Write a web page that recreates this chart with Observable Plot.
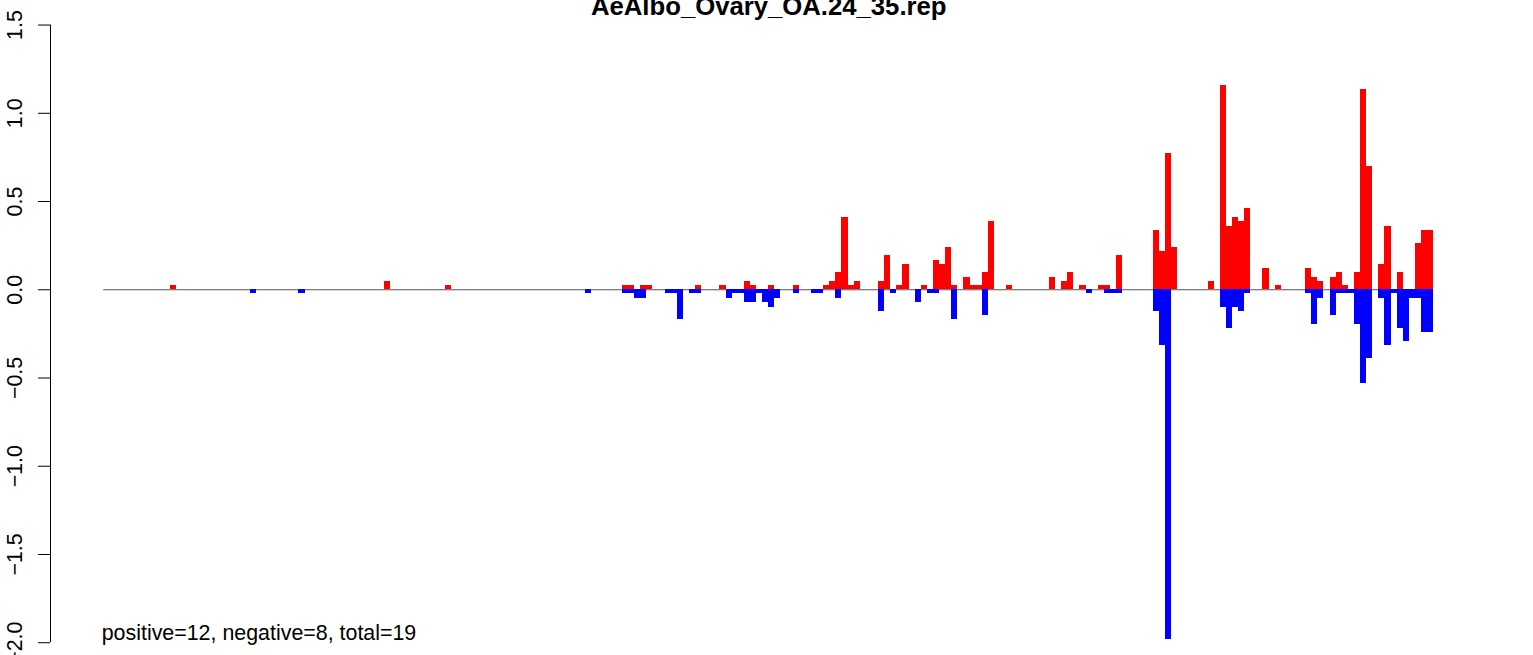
<!DOCTYPE html>
<html>
<head>
<meta charset="utf-8">
<script src="https://cdn.jsdelivr.net/npm/d3@7"></script>
<script src="https://cdn.jsdelivr.net/npm/@observablehq/plot@0.6"></script>
<style>
  html, body { margin: 0; padding: 0; background: #ffffff; }
  #chart svg { display: block; }
</style>
</head>
<body>
<div id="chart"></div>
<script>
// ---- data ----
const title = "AeAlbo_Ovary_OA.24_35.rep";
const note = "positive=12, negative=8, total=19";
const nBins = 218;
const yTicks = [-2, -1.5, -1, -0.5, 0, 0.5, 1, 1.5];
const yLimits = [-2, 1.5];

// bin index (1-based) of every non-empty bar
const bins = [12, 25, 33, 47, 57, 80, 86, 87, 88, 89, 90, 93, 94, 95, 97, 98,
  102, 103, 104, 105, 106, 107, 108, 109, 110, 111, 114, 117, 118, 119, 120, 121,
  122, 123, 124, 128, 129, 130, 131, 132, 134, 135, 136, 137, 138, 139, 140, 142,
  143, 144, 145, 146, 149, 156, 158, 159, 161, 162, 164, 165, 166, 167, 173, 174,
  175, 176, 182, 184, 185, 186, 187, 188, 191, 193, 198, 199, 200, 202, 203, 204,
  205, 206, 207, 208, 210, 211, 212, 213, 214, 215, 216, 217, 218];
// positive (red) part of each bar
const up = [0.024, 0, 0, 0.047, 0.024, 0, 0.024, 0.024, 0, 0.024, 0.024, 0, 0, 0, 0, 0.024,
  0.024, 0, 0, 0, 0.047, 0.024, 0, 0, 0.024, 0, 0.024, 0, 0, 0.024, 0.047, 0.098,
  0.41, 0.024, 0.047, 0.047, 0.194, 0, 0.024, 0.143, 0, 0.024, 0, 0.166, 0.143, 0.24, 0.024, 0.07,
  0.024, 0.024, 0.098, 0.387, 0.024, 0.07, 0.047, 0.098, 0.024, 0, 0.024, 0.024, 0, 0.194, 0.336, 0.217,
  0.772, 0.24, 0.047, 1.157, 0.359, 0.41, 0.387, 0.461, 0.121, 0.024, 0.121, 0.07, 0.047, 0.07, 0.098, 0.024,
  0, 0.098, 1.135, 0.699, 0.143, 0.359, 0, 0.098, 0, 0, 0.262, 0.336, 0.336];
// negative (blue) part of each bar
const down = [0, -0.024, -0.024, 0, 0, -0.024, -0.024, -0.024, -0.047, -0.047, 0, -0.024, -0.024, -0.168, -0.024, -0.024,
  0, -0.047, -0.024, -0.024, -0.072, -0.072, -0.024, -0.072, -0.099, -0.047, -0.024, -0.024, -0.024, 0, 0, -0.047,
  0, 0, 0, -0.121, 0, -0.024, 0, 0, -0.072, 0, -0.024, -0.024, 0, 0, -0.167, 0,
  0, 0, -0.144, 0, 0, 0, 0, 0, 0, -0.024, 0, -0.024, -0.024, -0.024, -0.121, -0.314,
  -1.98, 0, 0, -0.099, -0.218, -0.099, -0.121, -0.024, 0, 0, -0.024, -0.195, -0.047, -0.144, -0.024, -0.024,
  -0.024, -0.195, -0.529, -0.388, -0.047, -0.314, -0.024, -0.218, -0.291, -0.047, -0.047, -0.24, -0.24];

// ---- build table ----
const rows = bins.map((b, i) => ({bin: b, up: up[i], down: down[i]}));
const font = "'Liberation Sans', Arial, Helvetica, sans-serif";
const xPad = 0.04 * nBins; // R-style 4% axis extension
const xLo = -xPad;

const chart = Plot.plot({
  width: 1533,
  height: 655,
  marginLeft: 50,
  marginRight: 46.5,
  marginTop: 0,
  marginBottom: 0,
  style: {fontFamily: font, background: "#ffffff", color: "#000000", overflow: "visible"},
  x: {domain: [xLo, nBins + xPad], axis: null},
  y: {domain: [-2.0725, 1.6391], axis: null},
  marks: [
    Plot.ruleY([0], {x1: 0, x2: nBins, stroke: "#555555", strokeWidth: 1}),
    Plot.rectY(rows.filter(d => d.up > 0), {
      x1: d => d.bin - 1, x2: d => d.bin, y1: 0, y2: "up",
      fill: "#ff0000", inset: 0, shapeRendering: "crispEdges"
    }),
    Plot.rectY(rows.filter(d => d.down < 0), {
      x1: d => d.bin - 1, x2: d => d.bin, y1: 0, y2: "down",
      fill: "#0000ff", inset: 0, shapeRendering: "crispEdges"
    }),
    Plot.ruleX([xLo], {y1: yLimits[0], y2: yLimits[1], stroke: "#000000", strokeWidth: 1}),
    Plot.axisY(yTicks, {
      anchor: "left",
      tickSize: 12,
      tickPadding: 23.5,
      tickRotate: -90,
      textAnchor: "middle",
      lineAnchor: "middle",
      tickFormat: d3.format(".1f"),
      fontSize: 21.4,
      stroke: "#000000",
      fill: "#000000",
      label: null
    }),
    Plot.text([note], {
      x: 0, y: yLimits[0], text: d => d,
      textAnchor: "start", lineAnchor: "middle",
      dx: -2, dy: -9.7, fontSize: 21.4, fill: "#000000"
    }),
    Plot.text([title], {
      frameAnchor: "top", text: d => d,
      textAnchor: "middle", lineAnchor: "middle",
      dy: 5.8, fontSize: 25.7, fontWeight: "bold", fill: "#000000"
    })
  ]
});

document.getElementById("chart").appendChild(chart);
</script>
</body>
</html>
